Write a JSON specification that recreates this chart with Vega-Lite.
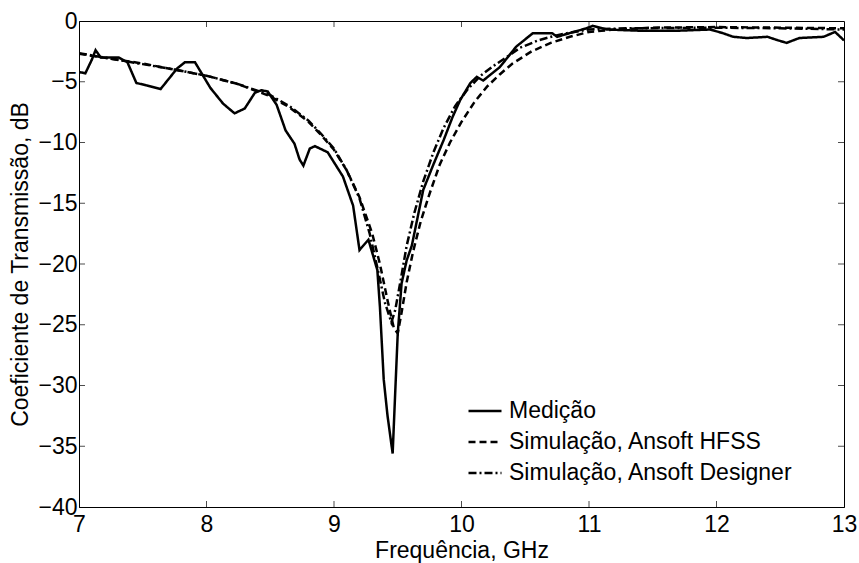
{
  "$schema": "https://vega.github.io/schema/vega-lite/v6.json",
  "width": 765,
  "height": 486,
  "autosize": {"type": "none"},
  "padding": {"left": 79, "top": 21, "right": 15, "bottom": 56},
  "background": "white",
  "config": {
    "view": {"stroke": "black", "strokeWidth": 1},
    "font": "Liberation Sans",
    "axis": {
      "grid": false,
      "domain": true,
      "domainColor": "black",
      "domainWidth": 1,
      "ticks": false,
      "labelColor": "black",
      "titleColor": "black",
      "labelFontSize": 23,
      "titleFontSize": 23,
      "titleFontWeight": "normal"
    }
  },
  "datasets": {
    "curves": [
      {"f": 7.00, "v": -4.2, "s": "Medição"},
      {"f": 7.05, "v": -4.3, "s": "Medição"},
      {"f": 7.10, "v": -3.2, "s": "Medição"},
      {"f": 7.13, "v": -2.4, "s": "Medição"},
      {"f": 7.17, "v": -3.0, "s": "Medição"},
      {"f": 7.31, "v": -3.0, "s": "Medição"},
      {"f": 7.38, "v": -3.4, "s": "Medição"},
      {"f": 7.45, "v": -5.1, "s": "Medição"},
      {"f": 7.53, "v": -5.3, "s": "Medição"},
      {"f": 7.64, "v": -5.6, "s": "Medição"},
      {"f": 7.77, "v": -3.9, "s": "Medição"},
      {"f": 7.83, "v": -3.4, "s": "Medição"},
      {"f": 7.91, "v": -3.4, "s": "Medição"},
      {"f": 8.03, "v": -5.5, "s": "Medição"},
      {"f": 8.13, "v": -6.8, "s": "Medição"},
      {"f": 8.22, "v": -7.6, "s": "Medição"},
      {"f": 8.30, "v": -7.2, "s": "Medição"},
      {"f": 8.38, "v": -5.9, "s": "Medição"},
      {"f": 8.43, "v": -5.7, "s": "Medição"},
      {"f": 8.48, "v": -5.8, "s": "Medição"},
      {"f": 8.55, "v": -6.9, "s": "Medição"},
      {"f": 8.62, "v": -9.0, "s": "Medição"},
      {"f": 8.69, "v": -10.1, "s": "Medição"},
      {"f": 8.73, "v": -11.4, "s": "Medição"},
      {"f": 8.76, "v": -11.9, "s": "Medição"},
      {"f": 8.81, "v": -10.5, "s": "Medição"},
      {"f": 8.85, "v": -10.3, "s": "Medição"},
      {"f": 8.95, "v": -10.8, "s": "Medição"},
      {"f": 9.07, "v": -12.8, "s": "Medição"},
      {"f": 9.15, "v": -15.2, "s": "Medição"},
      {"f": 9.20, "v": -18.85, "s": "Medição"},
      {"f": 9.27, "v": -18.0, "s": "Medição"},
      {"f": 9.34, "v": -20.5, "s": "Medição"},
      {"f": 9.36, "v": -23.5, "s": "Medição"},
      {"f": 9.39, "v": -29.5, "s": "Medição"},
      {"f": 9.42, "v": -32.5, "s": "Medição"},
      {"f": 9.46, "v": -35.6, "s": "Medição"},
      {"f": 9.48, "v": -30.6, "s": "Medição"},
      {"f": 9.50, "v": -25.7, "s": "Medição"},
      {"f": 9.53, "v": -21.6, "s": "Medição"},
      {"f": 9.57, "v": -19.7, "s": "Medição"},
      {"f": 9.61, "v": -18.5, "s": "Medição"},
      {"f": 9.70, "v": -13.9, "s": "Medição"},
      {"f": 9.78, "v": -11.8, "s": "Medição"},
      {"f": 9.86, "v": -9.8, "s": "Medição"},
      {"f": 9.93, "v": -7.9, "s": "Medição"},
      {"f": 9.99, "v": -6.5, "s": "Medição"},
      {"f": 10.07, "v": -5.1, "s": "Medição"},
      {"f": 10.12, "v": -4.6, "s": "Medição"},
      {"f": 10.17, "v": -4.9, "s": "Medição"},
      {"f": 10.30, "v": -3.8, "s": "Medição"},
      {"f": 10.43, "v": -2.1, "s": "Medição"},
      {"f": 10.56, "v": -1.0, "s": "Medição"},
      {"f": 10.71, "v": -1.0, "s": "Medição"},
      {"f": 10.75, "v": -1.3, "s": "Medição"},
      {"f": 10.88, "v": -0.9, "s": "Medição"},
      {"f": 10.98, "v": -0.6, "s": "Medição"},
      {"f": 11.03, "v": -0.4, "s": "Medição"},
      {"f": 11.14, "v": -0.7, "s": "Medição"},
      {"f": 11.40, "v": -0.8, "s": "Medição"},
      {"f": 11.70, "v": -0.8, "s": "Medição"},
      {"f": 11.95, "v": -0.7, "s": "Medição"},
      {"f": 12.05, "v": -1.0, "s": "Medição"},
      {"f": 12.13, "v": -1.3, "s": "Medição"},
      {"f": 12.24, "v": -1.4, "s": "Medição"},
      {"f": 12.40, "v": -1.3, "s": "Medição"},
      {"f": 12.47, "v": -1.55, "s": "Medição"},
      {"f": 12.55, "v": -1.8, "s": "Medição"},
      {"f": 12.65, "v": -1.4, "s": "Medição"},
      {"f": 12.84, "v": -1.3, "s": "Medição"},
      {"f": 12.93, "v": -0.9, "s": "Medição"},
      {"f": 13.00, "v": -1.6, "s": "Medição"},

      {"f": 7.00, "v": -2.7, "s": "Simulação, Ansoft HFSS"},
      {"f": 7.25, "v": -3.1, "s": "Simulação, Ansoft HFSS"},
      {"f": 7.50, "v": -3.5, "s": "Simulação, Ansoft HFSS"},
      {"f": 7.75, "v": -4.0, "s": "Simulação, Ansoft HFSS"},
      {"f": 8.00, "v": -4.5, "s": "Simulação, Ansoft HFSS"},
      {"f": 8.25, "v": -5.2, "s": "Simulação, Ansoft HFSS"},
      {"f": 8.50, "v": -6.2, "s": "Simulação, Ansoft HFSS"},
      {"f": 8.65, "v": -7.1, "s": "Simulação, Ansoft HFSS"},
      {"f": 8.80, "v": -8.3, "s": "Simulação, Ansoft HFSS"},
      {"f": 8.90, "v": -9.4, "s": "Simulação, Ansoft HFSS"},
      {"f": 9.00, "v": -10.6, "s": "Simulação, Ansoft HFSS"},
      {"f": 9.10, "v": -12.3, "s": "Simulação, Ansoft HFSS"},
      {"f": 9.20, "v": -14.5, "s": "Simulação, Ansoft HFSS"},
      {"f": 9.30, "v": -17.5, "s": "Simulação, Ansoft HFSS"},
      {"f": 9.36, "v": -20.0, "s": "Simulação, Ansoft HFSS"},
      {"f": 9.42, "v": -23.0, "s": "Simulação, Ansoft HFSS"},
      {"f": 9.47, "v": -25.3, "s": "Simulação, Ansoft HFSS"},
      {"f": 9.50, "v": -25.7, "s": "Simulação, Ansoft HFSS"},
      {"f": 9.53, "v": -24.0, "s": "Simulação, Ansoft HFSS"},
      {"f": 9.57, "v": -21.5, "s": "Simulação, Ansoft HFSS"},
      {"f": 9.62, "v": -19.0, "s": "Simulação, Ansoft HFSS"},
      {"f": 9.68, "v": -16.5, "s": "Simulação, Ansoft HFSS"},
      {"f": 9.75, "v": -14.2, "s": "Simulação, Ansoft HFSS"},
      {"f": 9.83, "v": -11.8, "s": "Simulação, Ansoft HFSS"},
      {"f": 9.91, "v": -10.0, "s": "Simulação, Ansoft HFSS"},
      {"f": 10.00, "v": -8.3, "s": "Simulação, Ansoft HFSS"},
      {"f": 10.10, "v": -6.7, "s": "Simulação, Ansoft HFSS"},
      {"f": 10.20, "v": -5.4, "s": "Simulação, Ansoft HFSS"},
      {"f": 10.30, "v": -4.4, "s": "Simulação, Ansoft HFSS"},
      {"f": 10.40, "v": -3.5, "s": "Simulação, Ansoft HFSS"},
      {"f": 10.55, "v": -2.5, "s": "Simulação, Ansoft HFSS"},
      {"f": 10.70, "v": -1.8, "s": "Simulação, Ansoft HFSS"},
      {"f": 10.85, "v": -1.3, "s": "Simulação, Ansoft HFSS"},
      {"f": 11.00, "v": -0.9, "s": "Simulação, Ansoft HFSS"},
      {"f": 11.20, "v": -0.7, "s": "Simulação, Ansoft HFSS"},
      {"f": 11.50, "v": -0.55, "s": "Simulação, Ansoft HFSS"},
      {"f": 12.00, "v": -0.5, "s": "Simulação, Ansoft HFSS"},
      {"f": 12.50, "v": -0.55, "s": "Simulação, Ansoft HFSS"},
      {"f": 13.00, "v": -0.6, "s": "Simulação, Ansoft HFSS"},

      {"f": 7.00, "v": -2.65, "s": "Simulação, Ansoft Designer"},
      {"f": 7.25, "v": -3.1, "s": "Simulação, Ansoft Designer"},
      {"f": 7.50, "v": -3.55, "s": "Simulação, Ansoft Designer"},
      {"f": 7.75, "v": -4.0, "s": "Simulação, Ansoft Designer"},
      {"f": 8.00, "v": -4.5, "s": "Simulação, Ansoft Designer"},
      {"f": 8.25, "v": -5.2, "s": "Simulação, Ansoft Designer"},
      {"f": 8.50, "v": -6.1, "s": "Simulação, Ansoft Designer"},
      {"f": 8.65, "v": -7.0, "s": "Simulação, Ansoft Designer"},
      {"f": 8.80, "v": -8.2, "s": "Simulação, Ansoft Designer"},
      {"f": 8.90, "v": -9.3, "s": "Simulação, Ansoft Designer"},
      {"f": 9.00, "v": -10.5, "s": "Simulação, Ansoft Designer"},
      {"f": 9.10, "v": -12.3, "s": "Simulação, Ansoft Designer"},
      {"f": 9.20, "v": -14.6, "s": "Simulação, Ansoft Designer"},
      {"f": 9.28, "v": -17.5, "s": "Simulação, Ansoft Designer"},
      {"f": 9.34, "v": -20.3, "s": "Simulação, Ansoft Designer"},
      {"f": 9.40, "v": -23.2, "s": "Simulação, Ansoft Designer"},
      {"f": 9.45, "v": -24.8, "s": "Simulação, Ansoft Designer"},
      {"f": 9.48, "v": -23.8, "s": "Simulação, Ansoft Designer"},
      {"f": 9.52, "v": -21.5, "s": "Simulação, Ansoft Designer"},
      {"f": 9.57, "v": -18.5, "s": "Simulação, Ansoft Designer"},
      {"f": 9.63, "v": -15.8, "s": "Simulação, Ansoft Designer"},
      {"f": 9.70, "v": -13.2, "s": "Simulação, Ansoft Designer"},
      {"f": 9.78, "v": -10.8, "s": "Simulação, Ansoft Designer"},
      {"f": 9.86, "v": -8.8, "s": "Simulação, Ansoft Designer"},
      {"f": 9.95, "v": -7.0, "s": "Simulação, Ansoft Designer"},
      {"f": 10.05, "v": -5.6, "s": "Simulação, Ansoft Designer"},
      {"f": 10.15, "v": -4.5, "s": "Simulação, Ansoft Designer"},
      {"f": 10.25, "v": -3.7, "s": "Simulação, Ansoft Designer"},
      {"f": 10.35, "v": -3.0, "s": "Simulação, Ansoft Designer"},
      {"f": 10.46, "v": -2.2, "s": "Simulação, Ansoft Designer"},
      {"f": 10.60, "v": -1.6, "s": "Simulação, Ansoft Designer"},
      {"f": 10.72, "v": -1.25, "s": "Simulação, Ansoft Designer"},
      {"f": 10.85, "v": -0.95, "s": "Simulação, Ansoft Designer"},
      {"f": 11.00, "v": -0.7, "s": "Simulação, Ansoft Designer"},
      {"f": 11.30, "v": -0.6, "s": "Simulação, Ansoft Designer"},
      {"f": 12.00, "v": -0.55, "s": "Simulação, Ansoft Designer"},
      {"f": 12.50, "v": -0.6, "s": "Simulação, Ansoft Designer"},
      {"f": 13.00, "v": -0.7, "s": "Simulação, Ansoft Designer"}
    ],
    "xticks": [{"t": 8}, {"t": 9}, {"t": 10}, {"t": 11}, {"t": 12}],
    "yticks": [{"t": -35}, {"t": -30}, {"t": -25}, {"t": -20}, {"t": -15}, {"t": -10}, {"t": -5}]
  },
  "encoding": {
    "x": {
      "type": "quantitative",
      "scale": {"domain": [7, 13], "nice": false, "zero": false},
      "axis": {"orient": "bottom", "title": "Frequência, GHz", "values": [7, 8, 9, 10, 11, 12, 13], "labelPadding": 6, "titlePadding": 3, "labelFlush": false}
    },
    "y": {
      "type": "quantitative",
      "scale": {"domain": [-40, 0], "nice": false, "zero": false},
      "axis": {"orient": "left", "title": "Coeficiente de Transmissão, dB", "values": [-40, -35, -30, -25, -20, -15, -10, -5, 0], "labelPadding": 2, "titlePadding": 5, "labelFlush": false}
    }
  },
  "layer": [
    {
      "data": {"name": "curves"},
      "mark": {"type": "line", "color": "black", "strokeWidth": 2.5, "clip": true},
      "encoding": {
        "x": {"field": "f"},
        "y": {"field": "v"},
        "strokeDash": {
          "field": "s", "type": "nominal",
          "scale": {
            "domain": ["Medição", "Simulação, Ansoft HFSS", "Simulação, Ansoft Designer"],
            "range": [[1, 0], [7, 4], [8, 3, 2, 3]]
          },
          "legend": {
            "title": null,
            "orient": "none",
            "legendX": 388,
            "legendY": 372,
            "symbolType": "stroke",
            "symbolSize": 1089,
            "symbolStrokeWidth": 2.5,
            "symbolStrokeColor": "black",
            "labelFontSize": 23,
            "labelColor": "black",
            "labelOffset": 6,
            "labelLimit": 500,
            "rowPadding": 1,
            "padding": 0
          }
        },
        "order": {"field": "f", "type": "quantitative"}
      }
    },
    {
      "data": {"name": "xticks"},
      "mark": {"type": "tick", "orient": "vertical", "size": 12, "thickness": 1, "color": "black", "clip": true},
      "encoding": {
        "x": {"field": "t"},
        "y": {"datum": -40}
      }
    },
    {
      "data": {"name": "xticks"},
      "mark": {"type": "tick", "orient": "vertical", "size": 12, "thickness": 1, "color": "black", "clip": true},
      "encoding": {
        "x": {"field": "t"},
        "y": {"datum": 0}
      }
    },
    {
      "data": {"name": "yticks"},
      "mark": {"type": "tick", "orient": "horizontal", "size": 12, "thickness": 1, "color": "black", "clip": true},
      "encoding": {
        "y": {"field": "t"},
        "x": {"datum": 7}
      }
    },
    {
      "data": {"name": "yticks"},
      "mark": {"type": "tick", "orient": "horizontal", "size": 12, "thickness": 1, "color": "black", "clip": true},
      "encoding": {
        "y": {"field": "t"},
        "x": {"datum": 13}
      }
    }
  ]
}
